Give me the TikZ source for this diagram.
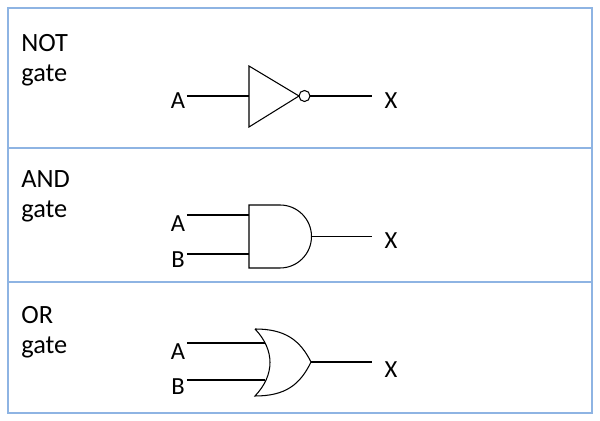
\documentclass[tikz,border=0pt]{standalone}
\usepackage{fontspec}
\setmainfont{Carlito}
\begin{document}
\begin{tikzpicture}[x=0.02cm,y=-0.02cm,
  lbl/.style={inner sep=0pt,font=\fontsize{14}{16}\selectfont},
  rowtxt/.style={inner sep=0pt,anchor=west,align=left,font=\fontsize{15}{17}\selectfont},
  wire/.style={line width=0.6pt},
  grid/.style={draw=tblue,line width=0.8pt}]
\definecolor{tblue}{HTML}{8EB4E3}
\useasboundingbox (0,0) rectangle (600,421);
\draw[grid] (8,8) rectangle (592,413);
\draw[grid] (8,148) -- (592,148);
\draw[grid] (8,282) -- (592,282);
% row labels
\node[rowtxt] (t1) at (21,60) {NOT\\gate};
\node[rowtxt] (t2) at (21,196) {AND\\gate};
\node[rowtxt] (t3) at (21,332) {OR\\gate};
% NOT
\node[lbl] (na) at (178,101) {A};
\node[lbl] (nx) at (391,101) {X};
\coordinate (nin) at (249,96);
\draw[wire] (249,66) -- (299,96) -- (249,127) -- cycle;
\draw[wire] (304.5,96) circle (5.5);
\coordinate (nout) at (310,96);
\draw[wire] (187,96) -- (nin);
\draw[wire] (nout) -- (372,96);
% AND
\node[lbl] (aa) at (178,224) {A};
\node[lbl] (ab) at (178,260) {B};
\node[lbl] (ax) at (391,241) {X};
\draw[wire] (249,205) -- (280,205) arc (-90:90:31.5) -- (249,268) -- cycle;
\draw[wire] (187,215) -- (249,215);
\draw[wire] (187,254) -- (249,254);
\draw[wire] (311.5,236.5) -- (372,236.5);
% OR
\node[lbl] (oa) at (178,352) {A};
\node[lbl] (ob) at (178,387) {B};
\node[lbl] (ox) at (391,370) {X};
\draw[wire] (255,329) .. controls (275,350) and (275,375) .. (255,396)
  .. controls (285,396) and (300,385) .. (311,362)
  .. controls (300,340) and (285,329) .. (255,329);
\draw[wire] (187,343) -- (265,343);
\draw[wire] (187,380) -- (265,380);
\draw[wire] (311,362) -- (372,362);
\end{tikzpicture}
\end{document}
